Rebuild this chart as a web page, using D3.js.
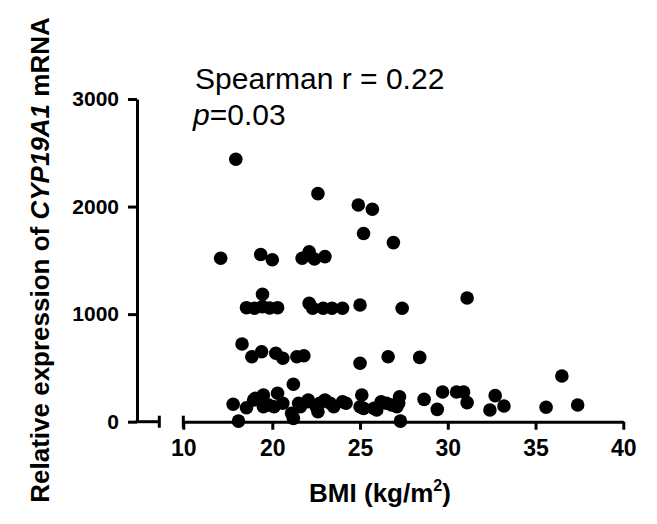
<!DOCTYPE html>
<html>
<head>
<meta charset="utf-8">
<script src="https://cdn.jsdelivr.net/npm/d3@7"></script>
<style>
  body { margin: 0; background: #ffffff; }
  svg text { font-family: "Liberation Sans", Arial, sans-serif; }
</style>
</head>
<body>
<svg id="chart" width="657" height="524"></svg>
<script>
// data: BMI (kg/m2) and relative CYP19A1 mRNA
let bmiVals = [
    15.9, 22.6, 24.9, 25.7, 25.2, 26.9,
    14.2, 18.7, 20.0, 21.7, 22.1, 22.4, 23.0,
    18.9, 17.1, 18.0, 18.9, 19.7, 20.3, 22.1, 22.3, 22.9, 23.4, 24.0, 25.0, 27.4, 31.1,
    16.6, 17.7, 18.8, 20.2, 20.6, 21.4, 21.8, 25.0, 26.6, 28.4, 21.2, 36.5,
    15.6, 16.2, 17.1, 17.9, 19.0, 19.0, 18.1, 19.6, 20.1, 20.3, 20.6, 21.1, 21.2,
    21.5, 21.6, 22.0, 22.05, 22.5, 22.6, 22.7, 23.0, 23.3, 23.5, 24.0, 24.2,
    25.1, 25.0, 25.2, 25.8, 25.95, 26.2, 26.5, 26.8, 27.1, 27.2, 27.25, 27.3,
    28.65, 29.4, 29.7, 30.5, 30.9, 31.1, 32.4, 32.7, 33.2, 35.6, 37.4
];
let mrnaVals = [
    2440, 2120, 2015, 1975, 1750, 1665,
    1520, 1555, 1505, 1520, 1580, 1512, 1535,
    1185, 1060, 1055, 1070, 1057, 1060, 1100, 1055, 1055, 1055, 1055, 1085, 1055, 1150,
    722, 604, 650, 636, 590, 604, 613, 543, 604, 598, 348, 425,
    162, 5, 130, 202, 248, 139, 217, 155, 139, 264, 171, 78, 31,
    171, 139, 186, 202, 139, 93, 171, 202, 171, 139, 186, 171,
    248, 139, 124, 124, 109, 186, 171, 155, 139, 171, 232, 5,
    208, 115, 276, 276, 276, 177, 109, 242, 146, 134, 155
];

let xTickVals  = [10, 20, 25, 30, 35, 40];
let yTickVals  = [0, 1000, 2000, 3000];
let statLine1  = "Spearman r = 0.22";
let statP      = "0.03";

let points = bmiVals.map((b, i) => ({ bmi: b, mrna: mrnaVals[i] }));

let svg = d3.select("#chart");

// broken x axis: second segment starts at 10, compressed 10-20 section
let xScale = d3.scaleLinear()
                .domain([10, 20, 40])
                .range([183.3, 272.3, 623.3]);
let yScale = d3.scaleLinear()
                .domain([0, 3000])
                .range([421.7, 99]);

let axisX0 = 137;   // y axis position
let lineW  = 3;

// y axis
let yAxis = svg.append("g")
    .attr("transform", "translate(" + axisX0 + ",0)")
    .call(d3.axisLeft(yScale).tickValues(yTickVals).tickSize(9).tickSizeOuter(0).tickFormat(d3.format("d")));

yAxis.select(".domain").attr("stroke", "#000").attr("stroke-width", lineW);
yAxis.selectAll(".tick line").attr("stroke", "#000").attr("stroke-width", lineW);
yAxis.selectAll(".tick text")
    .attr("x", -18)
    .attr("fill", "#000")
    .style("font-size", "21px")
    .style("font-weight", "bold");

// x axis, first short piece from the y axis to the break
let y0 = yScale(0);
let breakL = xScale(10) - 24;
svg.append("line")
    .attr("x1", axisX0 - lineW / 2).attr("x2", breakL)
    .attr("y1", y0).attr("y2", y0)
    .attr("stroke", "#000").attr("stroke-width", lineW);
svg.append("line")
    .attr("x1", breakL).attr("x2", breakL)
    .attr("y1", y0 - 6).attr("y2", y0 + 6)
    .attr("stroke", "#000").attr("stroke-width", lineW);
svg.append("line")
    .attr("x1", xScale(10)).attr("x2", xScale(10))
    .attr("y1", y0 - 6).attr("y2", y0 + 6)
    .attr("stroke", "#000").attr("stroke-width", lineW);

// x axis, main piece
let xAxis = svg.append("g")
    .attr("transform", "translate(0," + y0 + ")")
    .call(d3.axisBottom(xScale).tickValues(xTickVals).tickSize(8).tickSizeOuter(0));

xAxis.select(".domain").attr("stroke", "#000").attr("stroke-width", lineW);
xAxis.selectAll(".tick line").attr("stroke", "#000").attr("stroke-width", lineW);
xAxis.selectAll(".tick text")
    .attr("y", 18)
    .attr("dy", "0.71em")
    .attr("fill", "#000")
    .style("font-size", "23px")
    .style("font-weight", "bold");

// points
svg.append("g")
    .selectAll("circle")
    .data(points)
        .enter()
            .append("circle")
                .attr("cx", (d)=>{ return xScale(d.bmi); })
                .attr("cy", (d)=>{ return yScale(d.mrna); })
                .attr("r", 6.8)
                .attr("fill", "#000");

// axis titles
let xTitle = svg.append("text")
    .attr("x", 380)
    .attr("y", 502)
    .attr("text-anchor", "middle")
    .style("font-size", "26px")
    .style("font-weight", "bold");
xTitle.append("tspan").text("BMI (kg/m");
xTitle.append("tspan").attr("dy", -11).style("font-size", "16px").text("2");
xTitle.append("tspan").attr("dy", 11).text(")");

let yTitle = svg.append("text")
    .attr("transform", "translate(49,260) rotate(-90)")
    .attr("text-anchor", "middle")
    .style("font-size", "26px")
    .style("font-weight", "bold");
yTitle.append("tspan").text("Relative expression of ");
yTitle.append("tspan").style("font-style", "italic").text("CYP19A1");
yTitle.append("tspan").text(" mRNA");

// statistics
svg.append("text")
    .attr("x", 195)
    .attr("y", 89)
    .style("font-size", "30px")
    .text(statLine1);
let pTxt = svg.append("text")
    .attr("x", 193)
    .attr("y", 125)
    .style("font-size", "30px");
pTxt.append("tspan").style("font-style", "italic").text("p");
pTxt.append("tspan").text("=" + statP);
</script>
</body>
</html>
